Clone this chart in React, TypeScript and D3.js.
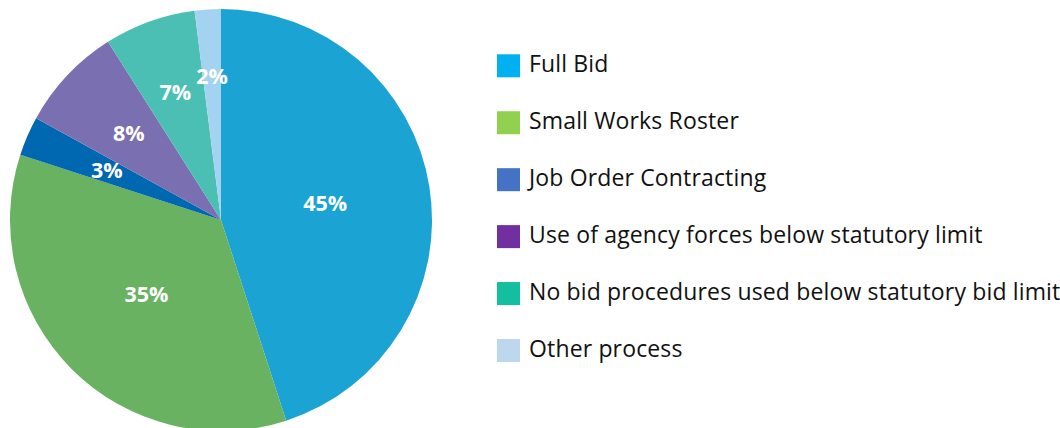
import React from "react";
import * as d3 from "d3";

const categories = [
  "Full Bid",
  "Small Works Roster",
  "Job Order Contracting",
  "Use of agency forces below statutory limit",
  "No bid procedures used below statutory bid limit",
  "Other process",
];
const values = [45, 35, 3, 8, 7, 2];
const sliceColors = ["#1BA3D4", "#69B262", "#0067B1", "#7A70B1", "#4BBFB3", "#A3D3F0"];
const legendColors = ["#00B0F0", "#92D050", "#4472C4", "#7030A0", "#13BF9E", "#BDD7EE"];
// label radius as a fraction of the pie radius (layout)
const labelRadiusFrac = [0.5, 0.5, 0.59, 0.6, 0.64, 0.68];

export default function App() {
  const W = 1060, H = 428;
  const cx = 221, cy = 220, r = 211;
  const pie = d3.pie<number>().sort(null).value((d) => d)(values);
  const arc = d3.arc<d3.PieArcDatum<number>>().innerRadius(0).outerRadius(r);

  const legendY = d3.scaleLinear().domain([0, categories.length - 1]).range([65.8, 350.5]);

  return (
    <svg width={W} height={H} style={{ position: "absolute", left: 0, top: 0 }}>
      <rect width={W} height={H} fill="#fff" />
      <g transform={`translate(${cx},${cy})`}>
        {pie.map((p, i) => (
          <path key={i} d={arc(p) || ""} fill={sliceColors[i]} />
        ))}
        {pie.map((p, i) => {
          const a = (p.startAngle + p.endAngle) / 2;
          const rl = r * labelRadiusFrac[i];
          const x = Math.sin(a) * rl;
          const y = -Math.cos(a) * rl;
          return (
            <text
              key={"l" + i}
              x={x}
              y={y + 7.5}
              textAnchor="middle"
              fill="#fff"
              fontFamily="'Open Sans', sans-serif"
              fontWeight={700}
              fontSize={21.5}
            >
              {values[i]}%
            </text>
          );
        })}
      </g>
      {categories.map((c, i) => {
        const y = legendY(i);
        return (
          <g key={"g" + i}>
            <rect x={497} y={y - 11.5} width={23} height={23} fill={legendColors[i]} />
            <text
              x={529}
              y={y + 6.5}
              fill="#111"
              fontFamily="'Open Sans', sans-serif"
              fontSize={23}
              letterSpacing={0.15}
            >
              {c}
            </text>
          </g>
        );
      })}
    </svg>
  );
}
